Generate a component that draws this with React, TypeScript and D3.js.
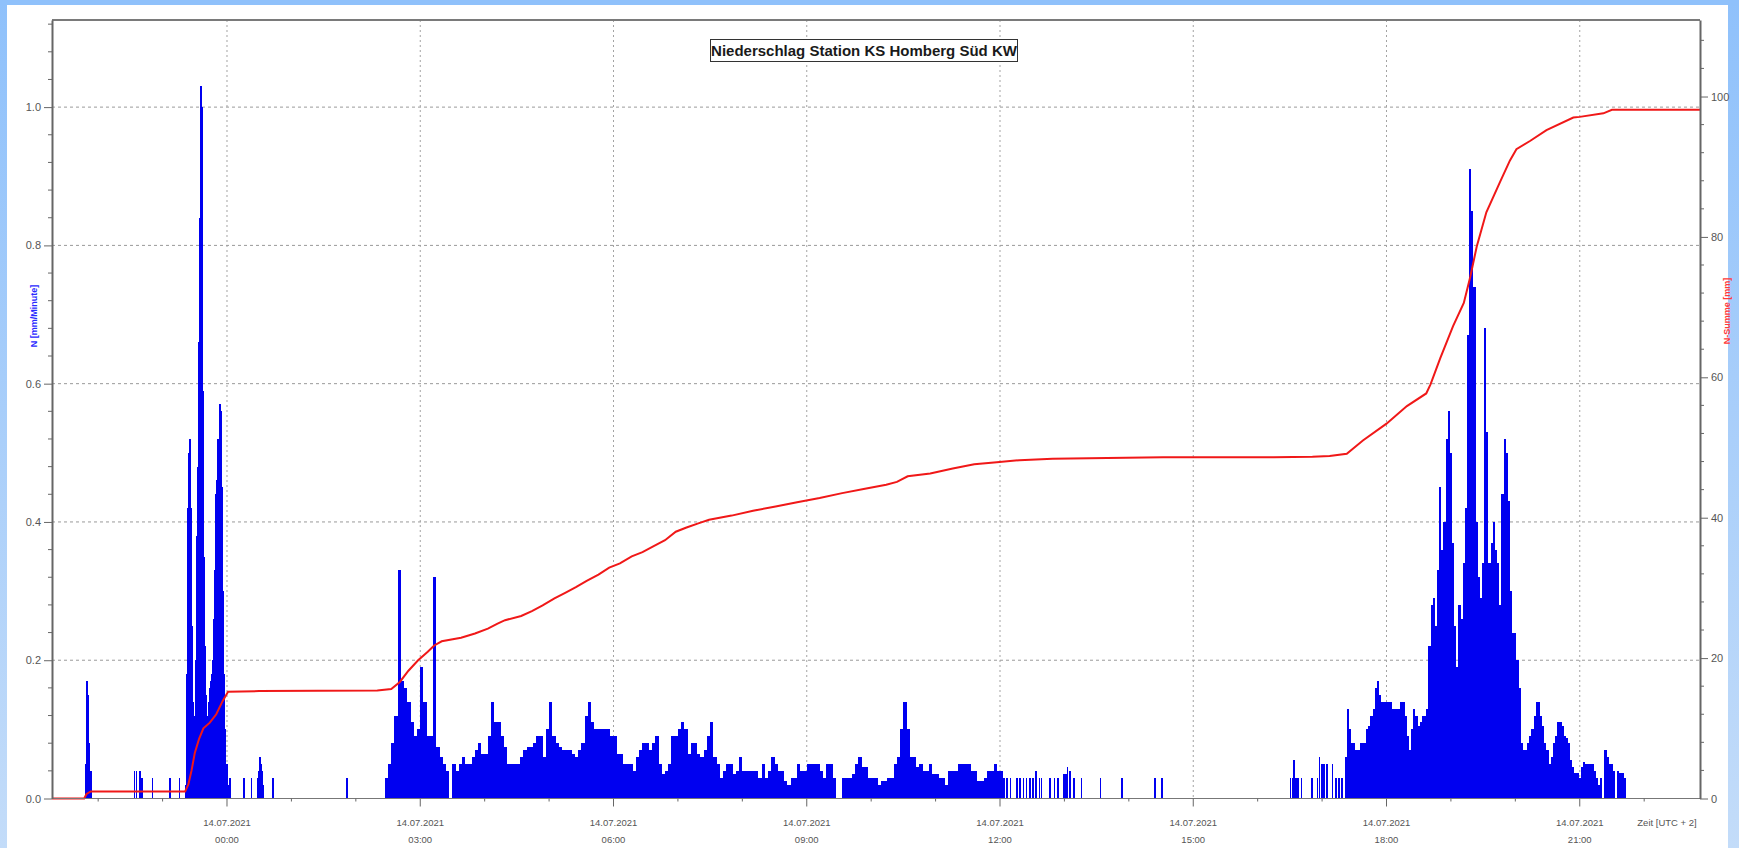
import React, { useEffect, useRef } from 'react';
import * as d3 from 'd3';

// all times in minutes relative to 14.07.2021 00:00 (UTC + 2)

// single minute showers outside the main rain periods
const showerMinutes = [
  -132, -131, -130, -129, -128, -127, -87, -85, -82, -80, -70, -54, -45,
  2, 15, 22, 28, 29, 30, 31, 32, 33, 42, 111,
  723, 726, 729, 735, 738, 741, 744, 747, 750, 753, 756, 758, 766, 770, 773, 779, 781, 782, 784, 785, 788, 795, 813, 833, 863, 864, 870,
  990, 992, 993, 995, 997, 1000, 1010, 1015, 1017, 1019, 1021, 1024, 1029, 1032, 1035, 1038,
];
const showerRates = [
  0.05, 0.17, 0.15, 0.08, 0.04, 0.04, 0.04, 0.04, 0.04, 0.03, 0.03, 0.03, 0.03,
  0.03, 0.03, 0.03, 0.03, 0.04, 0.06, 0.05, 0.04, 0.02, 0.03, 0.03,
  0.03, 0.03, 0.03, 0.03, 0.03, 0.03, 0.03, 0.03, 0.03, 0.04, 0.03, 0.03, 0.03, 0.03, 0.03, 0.035, 0.035, 0.045, 0.04, 0.04, 0.03, 0.03, 0.03, 0.03, 0.03, 0.03, 0.03,
  0.03, 0.03, 0.055, 0.03, 0.03, 0.03, 0.03, 0.03, 0.06, 0.05, 0.05, 0.05, 0.05, 0.03, 0.03, 0.03,
];

// night burst, one value per minute
const nightStart = -39;
const nightStep = 1;
const nightRates = [
  0.02, 0.18, 0.42, 0.50, 0.52, 0.42, 0.25, 0.14, 0.12, 0.20,
  0.38, 0.48, 0.66, 0.84, 1.03, 1.00, 0.59, 0.35, 0.22, 0.15,
  0.12, 0.14, 0.16, 0.17, 0.18, 0.20, 0.26, 0.33, 0.44, 0.46,
  0.52, 0.52, 0.57, 0.56, 0.45, 0.30, 0.18, 0.10, 0.05, 0.02,
];

// long steady rain, one value per 3 minutes
const morningStart = 144;
const morningStep = 3;
const morningRates = [
  0, 0.03, 0.05, 0.08, 0.12, 0.33, 0.17, 0.16, 0.14, 0.11,
  0.09, 0.10, 0.19, 0.14, 0.09, 0.09, 0.32, 0.075, 0.06, 0.05,
  0.04, 0, 0.05, 0.04, 0.05, 0.06, 0.05, 0.05, 0.06, 0.07,
  0.08, 0.065, 0.065, 0.09, 0.14, 0.11, 0.11, 0.09, 0.075, 0.05,
  0.05, 0.05, 0.05, 0.06, 0.07, 0.075, 0.075, 0.08, 0.09, 0.09,
  0.06, 0.10, 0.14, 0.09, 0.08, 0.075, 0.07, 0.07, 0.07, 0.065,
  0.06, 0.07, 0.08, 0.12, 0.14, 0.11, 0.10, 0.10, 0.10, 0.10,
  0.10, 0.09, 0.09, 0.065, 0.065, 0.05, 0.05, 0.05, 0.04, 0.06,
  0.07, 0.08, 0.08, 0.07, 0.08, 0.09, 0.05, 0.035, 0.04, 0.05,
  0.09, 0.09, 0.10, 0.11, 0.10, 0.065, 0.08, 0.08, 0.065, 0.06,
  0.07, 0.09, 0.11, 0.06, 0.05, 0.03, 0.04, 0.05, 0.05, 0.035,
  0.04, 0.06, 0.04, 0.04, 0.04, 0.04, 0.04, 0.03, 0.05, 0.03,
  0.04, 0.06, 0.05, 0.04, 0.04, 0.025, 0.02, 0.03, 0.03, 0.05,
  0.04, 0.04, 0.05, 0.05, 0.05, 0.05, 0.04, 0.03, 0.05, 0.05,
  0.03, 0, 0, 0.03, 0.03, 0.03, 0.035, 0.05, 0.06, 0.045,
  0.045, 0.03, 0.03, 0.03, 0.02, 0.025, 0.025, 0.03, 0.03, 0.05,
  0.06, 0.10, 0.14, 0.10, 0.06, 0.06, 0.045, 0.05, 0.04, 0.04,
  0.05, 0.035, 0.035, 0.03, 0.03, 0.02, 0.04, 0.04, 0.04, 0.05,
  0.05, 0.05, 0.05, 0.04, 0.04, 0.025, 0.025, 0.03, 0.04, 0.04,
  0.05, 0.04, 0.04,
];

// evening storm, one value per 2 minutes
const eveningStart = 1041;
const eveningStep = 2;
const eveningRates = [
  0.06, 0.13, 0.10, 0.08, 0.08, 0.07, 0.07, 0.08, 0.08, 0.08,
  0.10, 0.105, 0.12, 0.13, 0.16, 0.17, 0.15, 0.14, 0.14, 0.14,
  0.14, 0.14, 0.13, 0.13, 0.13, 0.13, 0.14, 0.14, 0.12, 0.09,
  0.07, 0.10, 0.13, 0.12, 0.105, 0.11, 0.12, 0.12, 0.13, 0.22,
  0.28, 0.29, 0.25, 0.33, 0.45, 0.36, 0.40, 0.52, 0.56, 0.50,
  0.37, 0.25, 0.19, 0.28, 0.26, 0.34, 0.42, 0.67, 0.91, 0.85,
  0.74, 0.40, 0.32, 0.29, 0.34, 0.68, 0.53, 0.34, 0.37, 0.40,
  0.36, 0.34, 0.28, 0.44, 0.52, 0.50, 0.43, 0.30, 0.24, 0.24,
  0.20, 0.16, 0.08, 0.07, 0.07, 0.08, 0.09, 0.10, 0.12, 0.14,
  0.14, 0.12, 0.105, 0.08, 0.07, 0.05, 0.06, 0.08, 0.09, 0.11,
  0.11, 0.105, 0.09, 0.087, 0.08, 0.056, 0.045, 0.037, 0.037, 0.03,
  0.045, 0.053, 0.05, 0.05, 0.05, 0.05, 0.04, 0.03, 0.02, 0.03,
  0, 0.07, 0.06, 0.05, 0.05, 0.04, 0, 0.04, 0.037, 0.037, 0.03,
];

// cumulative sum (right axis)
const sumMinutes = [
  -163, -133, -131, -127, -39, -36, -33, -30, -26, -22, -16, -10, -4, 1, 30, 140,
  153, 161, 169, 178, 187, 193, 200, 218, 231, 243, 252, 259, 274, 284, 294, 305,
  315, 325, 335, 346, 356, 366, 377, 387, 397, 408, 418, 428, 439, 449, 470, 490,
  511, 531, 552, 573, 593, 614, 624, 634, 655, 676, 696, 717, 738, 769, 820, 872,
  975, 1011, 1027, 1043, 1058, 1080, 1099, 1117, 1121, 1130, 1142, 1152, 1158, 1164, 1173, 1186,
  1195, 1201, 1214, 1229, 1254, 1260, 1282, 1290, 1372,
];
const sumValues = [
  0, 0, 0.6, 1.0, 1.0, 2.0, 4.0, 6.5, 8.5, 10.0, 10.8, 12.0, 13.9, 15.2, 15.3, 15.4,
  15.6, 16.6, 18.2, 19.7, 20.9, 21.8, 22.4, 22.9, 23.5, 24.2, 24.9, 25.4, 26.0, 26.7, 27.5, 28.5,
  29.3, 30.1, 31.0, 31.9, 32.9, 33.5, 34.5, 35.1, 35.9, 36.8, 38.0, 38.6, 39.2, 39.7, 40.3, 41.0,
  41.6, 42.2, 42.8, 43.5, 44.1, 44.7, 45.1, 45.9, 46.3, 47.0, 47.6, 47.9, 48.2, 48.4, 48.5, 48.6,
  48.6, 48.7, 48.8, 49.1, 51.0, 53.4, 55.9, 57.7, 59.0, 62.7, 67.3, 70.6, 74.3, 78.6, 83.5, 87.9,
  90.9, 92.5, 93.7, 95.2, 97.0, 97.1, 97.6, 98.1, 98.1,
];

const rateTicks = [0, 0.2, 0.4, 0.6, 0.8, 1.0];
const sumTicks = [0, 20, 40, 60, 80, 100];
const labelHours = [0, 3, 6, 9, 12, 15, 18, 21];

const title = 'Niederschlag Station KS Homberg Süd KW';

interface Bar { m: number; dur: number; v: number; }

export default function App() {
  const svgRef = useRef<SVGSVGElement>(null);

  useEffect(() => {
    if (!svgRef.current) return;
    const svg = d3.select(svgRef.current);
    svg.selectAll('*').remove();

    const left = 52, right = 1700, top = 20, bottom = 798.5;
    const base = new Date(2021, 6, 14, 0, 0);
    const at = (m: number) => d3.timeMinute.offset(base, m);

    const x = d3.scaleTime().domain([at(-163), at(1372)]).range([left, right]);
    const y = d3.scaleLinear().domain([0, 1.126]).range([bottom, top]);
    const ySum = d3.scaleLinear().domain([0, 110.9]).range([bottom, top]);

    // frame
    const defs = svg.append('defs');
    const grad = defs.append('linearGradient').attr('id', 'edge').attr('x1', 0).attr('y1', 0).attr('x2', 0).attr('y2', 1);
    grad.append('stop').attr('offset', '0%').attr('stop-color', '#8fc1fb');
    grad.append('stop').attr('offset', '100%').attr('stop-color', '#c3dcf9');
    svg.append('rect').attr('width', 1739).attr('height', 848).attr('fill', 'url(#edge)');
    svg.append('rect').attr('width', 1739).attr('height', 5).attr('fill', '#8fc1fb');
    svg.append('rect').attr('x', 7).attr('y', 5).attr('width', 1721).attr('height', 843).attr('fill', '#fff');

    // grid
    svg.append('g')
      .selectAll('line')
      .data(rateTicks.filter(d => d > 0))
      .join('line')
      .attr('x1', left).attr('x2', right)
      .attr('y1', d => y(d)).attr('y2', d => y(d))
      .attr('stroke', '#9a9a9a')
      .attr('stroke-dasharray', '3,3');

    svg.append('g')
      .selectAll('line')
      .data(labelHours)
      .join('line')
      .attr('x1', h => x(at(h * 60))).attr('x2', h => x(at(h * 60)))
      .attr('y1', top).attr('y2', bottom)
      .attr('stroke', '#a3a3a3')
      .attr('stroke-dasharray', '2,3');

    // bars
    const bars: Bar[] = [];
    showerMinutes.forEach((m, i) => bars.push({ m, dur: 1, v: showerRates[i] }));
    nightRates.forEach((v, i) => bars.push({ m: nightStart + i * nightStep, dur: nightStep, v }));
    morningRates.forEach((v, i) => bars.push({ m: morningStart + i * morningStep, dur: morningStep, v }));
    eveningRates.forEach((v, i) => bars.push({ m: eveningStart + i * eveningStep, dur: eveningStep, v }));

    svg.append('g')
      .attr('shape-rendering', 'crispEdges')
      .selectAll('rect')
      .data(bars.filter(d => d.v > 0))
      .join('rect')
      .attr('x', d => x(at(d.m)))
      .attr('width', d => Math.max(x(at(d.m + d.dur)) - x(at(d.m)), 1.6))
      .attr('y', d => y(d.v))
      .attr('height', d => bottom - y(d.v))
      .attr('fill', '#0000f0');

    // cumulative line
    const line = d3.line<number>()
      .x((m, i) => x(at(m)))
      .y((m, i) => ySum(sumValues[i]));
    svg.append('path')
      .attr('d', line(sumMinutes))
      .attr('fill', 'none')
      .attr('stroke', '#f01818')
      .attr('stroke-width', 2);

    // frame lines
    svg.append('line').attr('x1', left).attr('x2', right).attr('y1', top).attr('y2', top)
      .attr('stroke', '#7a7a7a').attr('stroke-width', 2);
    svg.append('line').attr('x1', left).attr('x2', right).attr('y1', bottom).attr('y2', bottom)
      .attr('stroke', '#777');

    const axisFont = "'Liberation Sans', Arial, sans-serif";

    // left axis
    const yAxis = svg.append('g')
      .attr('transform', `translate(${left},0)`)
      .call(d3.axisLeft(y).tickValues(rateTicks).tickFormat(d3.format('.1f')).tickSize(8).tickSizeOuter(0));
    yAxis.select('.domain').attr('stroke', '#666').attr('stroke-width', 2);
    yAxis.selectAll('.tick line').attr('stroke', '#666');
    yAxis.selectAll('.tick text').attr('fill', '#555').style('font-size', '11px').style('font-family', axisFont).attr('x', -11);
    svg.append('g')
      .selectAll('line')
      .data(d3.range(0.04, 1.125, 0.04).filter(v => Math.abs(v / 0.2 - Math.round(v / 0.2)) > 0.01))
      .join('line')
      .attr('x1', left - 4).attr('x2', left)
      .attr('y1', d => y(d)).attr('y2', d => y(d))
      .attr('stroke', '#666');

    // right axis
    const rAxis = svg.append('g')
      .attr('transform', `translate(${right},0)`)
      .call(d3.axisRight(ySum).tickValues(sumTicks).tickFormat(d3.format('d')).tickSize(8).tickSizeOuter(0));
    rAxis.select('.domain').attr('stroke', '#666').attr('stroke-width', 2);
    rAxis.selectAll('.tick line').attr('stroke', '#666');
    rAxis.selectAll('.tick text').attr('fill', '#555').style('font-size', '11px').style('font-family', axisFont).attr('x', 11);
    svg.append('g')
      .selectAll('line')
      .data(d3.range(4, 110, 4).filter(v => v % 20 !== 0))
      .join('line')
      .attr('x1', right).attr('x2', right + 4)
      .attr('y1', d => ySum(d)).attr('y2', d => ySum(d))
      .attr('stroke', '#666');

    // time axis
    const hourTicks = d3.range(-2, 23);
    svg.append('g')
      .selectAll('line')
      .data(hourTicks)
      .join('line')
      .attr('x1', h => x(at(h * 60))).attr('x2', h => x(at(h * 60)))
      .attr('y1', bottom).attr('y2', h => bottom + (h % 3 === 0 ? 8 : 3))
      .attr('stroke', '#666');

    const fmtDate = d3.timeFormat('%d.%m.%Y');
    const fmtTime = d3.timeFormat('%H:%M');
    const labels = svg.append('g')
      .style('font-family', axisFont)
      .style('font-size', '9.5px')
      .attr('fill', '#555')
      .attr('text-anchor', 'middle');
    labelHours.forEach(h => {
      const d = at(h * 60);
      labels.append('text').attr('x', x(d)).attr('y', 826).text(fmtDate(d));
      labels.append('text').attr('x', x(d)).attr('y', 843).text(fmtTime(d));
    });
    labels.append('text').attr('x', 1667).attr('y', 826).text('Zeit [UTC + 2]');

    // axis titles
    svg.append('text')
      .attr('transform', 'translate(37,316) rotate(-90)')
      .attr('text-anchor', 'middle')
      .style('font-family', axisFont)
      .style('font-size', '9px')
      .style('font-weight', 'bold')
      .attr('fill', '#2a2aff')
      .text('N [mm/Minute]');
    svg.append('text')
      .attr('transform', 'translate(1730,311) rotate(-90)')
      .attr('text-anchor', 'middle')
      .style('font-family', axisFont)
      .style('font-size', '9px')
      .style('font-weight', 'bold')
      .attr('fill', '#ff3a3a')
      .text('N-Summe [mm]');

    // title box
    svg.append('rect')
      .attr('x', 710.5).attr('y', 39.5).attr('width', 307).attr('height', 22)
      .attr('fill', '#fff').attr('stroke', '#333');
    svg.append('text')
      .attr('x', 864).attr('y', 56)
      .attr('text-anchor', 'middle')
      .style('font-family', axisFont)
      .style('font-size', '15px')
      .style('font-weight', 'bold')
      .attr('fill', '#1a1a1a')
      .text(title);
  }, []);

  return (
    <svg ref={svgRef} width={1739} height={848} style={{ position: 'absolute', left: 0, top: 0 }} />
  );
}
